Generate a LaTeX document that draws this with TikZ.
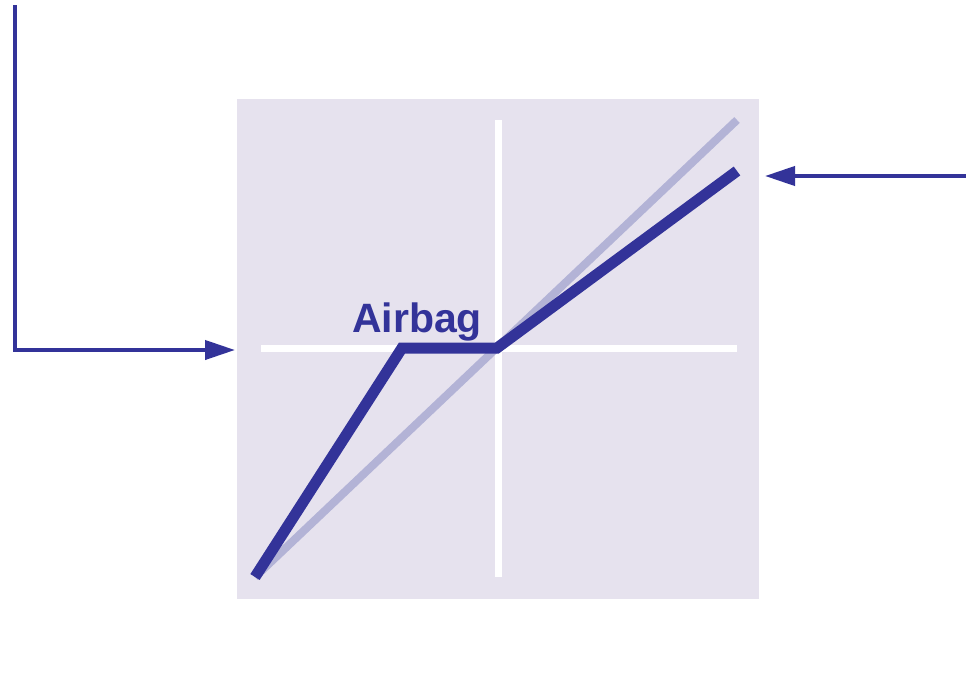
\documentclass[tikz,border=0pt]{standalone}
\usepackage{fontspec}
\setmainfont{Liberation Sans}
\usetikzlibrary{arrows.meta}
\definecolor{dblue}{HTML}{333399}
\definecolor{lblue}{HTML}{B3B3D6}
\definecolor{panel}{HTML}{E6E2EE}
\tikzset{
  ptr/.style={dblue, line width=4pt, -{Triangle[length=30pt,width=19pt]}},
  axisline/.style={white, line width=7pt},
}
\begin{document}
\begin{tikzpicture}[x=1pt,y=-1pt]
\useasboundingbox (0,0) rectangle (966,680);
\fill[panel] (237,99) rectangle (759,599);
% axes
\coordinate (hl) at (261,348);
\coordinate (hr) at (737,348);
\coordinate (vt) at (498,120);
\coordinate (vb) at (498,577);
\draw[axisline] (hl) -- (hr);
\draw[axisline] (vt) -- (vb);
% reference diagonal
\coordinate (d0) at (255,577);
\coordinate (d1) at (737,120);
\draw[lblue, line width=8pt] (d0) -- (d1);
% characteristic
\coordinate (k1) at (402,348);
\coordinate (k2) at (497,348);
\coordinate (k3) at (737,171);
\draw[dblue, line width=11pt, line join=miter] (d0) -- (k1) -- (k2) -- (k3);
\node[dblue, font=\bfseries\fontsize{41}{41}\selectfont, anchor=base] (lab) at (417,332) {Airbag};
% arrows
\coordinate (ltop) at (15,5);
\coordinate (lcorner) at (15,350);
\coordinate (ltip) at (235,350);
\draw[ptr] (ltop) -- (lcorner) -- (ltip);
\coordinate (rstart) at (966,176);
\coordinate (rtip) at (765,176);
\draw[ptr] (rstart) -- (rtip);
\end{tikzpicture}
\end{document}
